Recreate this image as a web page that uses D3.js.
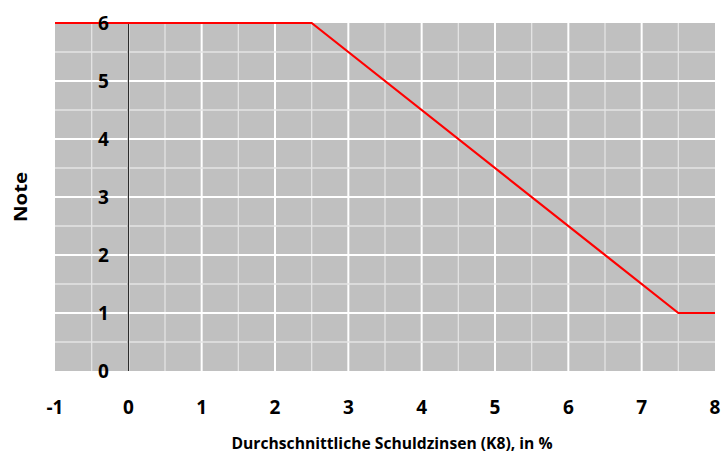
<!DOCTYPE html>
<html><head><meta charset="utf-8">
<script src="https://cdn.jsdelivr.net/npm/d3@7"></script>
<style>html,body{margin:0;padding:0;background:#fff;}svg{display:block;}text{font-family:"Open Sans",sans-serif;font-weight:bold;fill:#000;}</style>
</head><body>
<script>
const lineX = [-1, 2.5, 7.5, 8];
const lineY = [6, 6, 1, 1];
const xTicks = [-1, 0, 1, 2, 3, 4, 5, 6, 7, 8];
const yTicks = [0, 1, 2, 3, 4, 5, 6];
const xTitle = "Durchschnittliche Schuldzinsen (K8), in %";
const yTitle = "Note";

const W = 725, H = 454;
const svg = d3.select("body").append("svg").attr("width", W).attr("height", H);
const x = d3.scaleLinear().domain([-1, 8]).range([55, 715]);
const y = d3.scaleLinear().domain([0, 6]).range([371, 23]);

svg.append("rect").attr("x", x(-1)).attr("y", y(6)).attr("width", x(8) - x(-1)).attr("height", y(0) - y(6)).attr("fill", "#c0c0c0");

const halfX = d3.range(-1, 8.01, 0.5);
const halfY = d3.range(0, 6.01, 0.5);
const g = svg.append("g");
halfX.forEach(v => {
  if (v === -1 || v === 8) return;
  const major = Number.isInteger(v);
  g.append("line").attr("x1", x(v)).attr("x2", x(v)).attr("y1", y(6)).attr("y2", y(0))
    .attr("stroke", major ? "#ffffff" : "#e4e4e4").attr("stroke-width", major ? 2 : 1.3);
});
halfY.forEach(v => {
  if (v === 0 || v === 6) return;
  const major = Number.isInteger(v);
  g.append("line").attr("x1", x(-1)).attr("x2", x(8)).attr("y1", y(v)).attr("y2", y(v))
    .attr("stroke", major ? "#ffffff" : "#e4e4e4").attr("stroke-width", major ? 2 : 1.3);
});

// zero line
svg.append("line").attr("x1", x(0)).attr("x2", x(0)).attr("y1", y(6)).attr("y2", y(0)).attr("stroke", "#000").attr("stroke-width", 1);

// red line
const pts = lineX.map((d, i) => [d, lineY[i]]);
svg.append("path").datum(pts)
  .attr("d", d3.line().x(d => x(d[0])).y(d => y(d[1])))
  .attr("fill", "none").attr("stroke", "#ff0000").attr("stroke-width", 2.2);

// y tick labels
svg.append("g").selectAll("text").data(yTicks).join("text")
  .attr("x", x(-0.34)).attr("y", d => y(d)).attr("dy", "0.36em")
  .attr("text-anchor", "middle").attr("font-size", 19).text(d => d);

// x tick labels
svg.append("g").selectAll("text").data(xTicks).join("text")
  .attr("x", d => x(d)).attr("y", 407).attr("dy", "0.36em")
  .attr("text-anchor", "middle").attr("font-size", 19).text(d => d);

svg.append("text").attr("x", 392).attr("y", 449).attr("text-anchor", "middle")
  .attr("font-size", 16).attr("textLength", 321).attr("lengthAdjust", "spacingAndGlyphs").text(xTitle);
svg.append("text").attr("transform", "translate(27,197) rotate(-90)")
  .attr("text-anchor", "middle").attr("font-size", 17).attr("textLength", 50).attr("lengthAdjust", "spacingAndGlyphs").text(yTitle);
</script>
</body></html>
